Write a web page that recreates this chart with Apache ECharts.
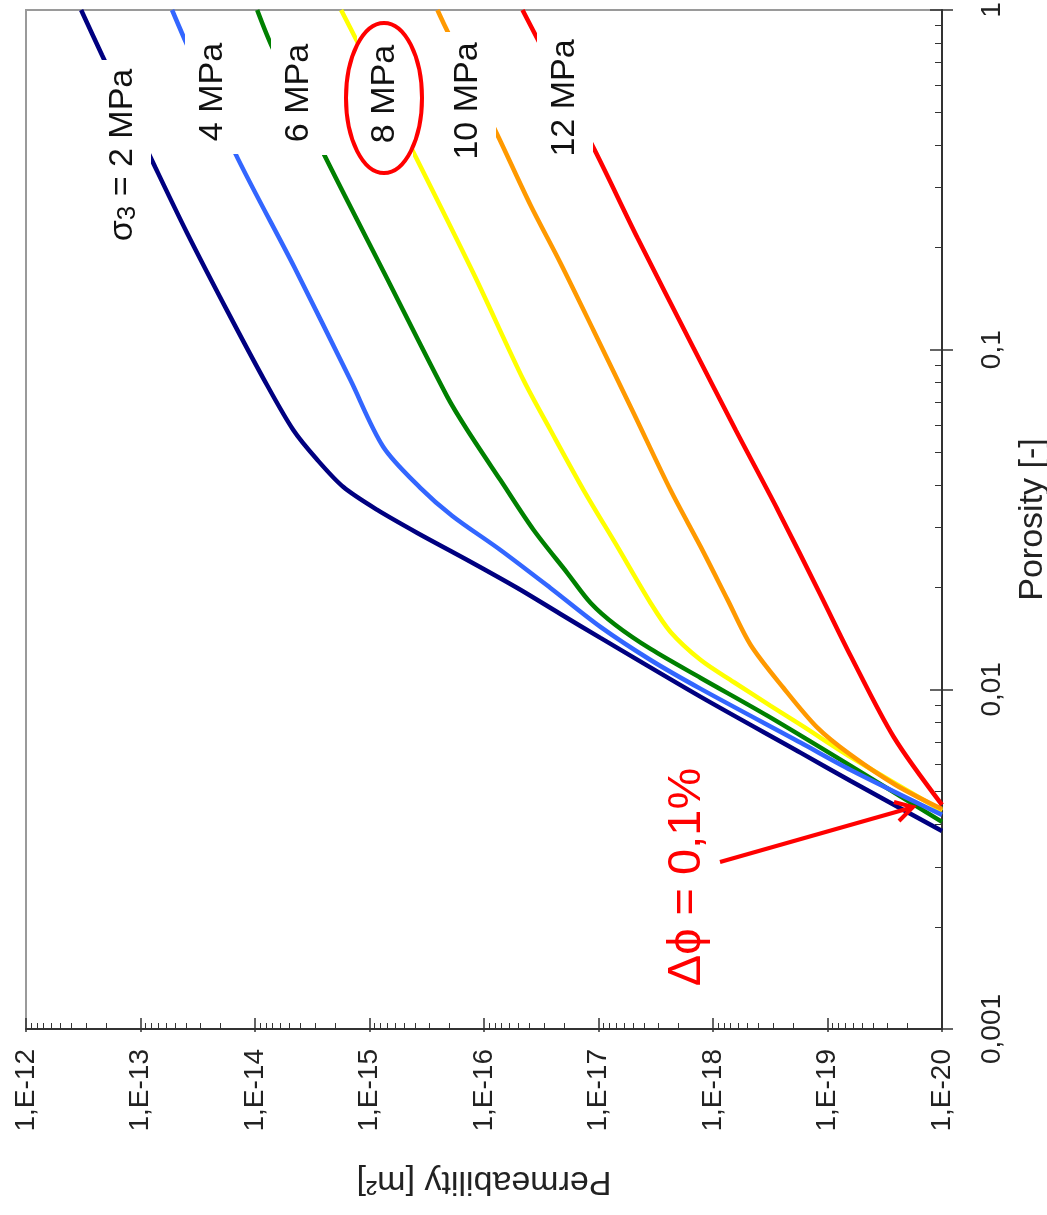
<!DOCTYPE html>
<html>
<head>
<meta charset="utf-8">
<script src="https://cdn.jsdelivr.net/npm/echarts@6/dist/echarts.min.js"></script>
<style>
html,body{margin:0;padding:0;background:#ffffff;}
#chart{width:1047px;height:1215px;}
</style>
</head>
<body>
<div id="chart"></div>
<script>
// ---------- data (permeability [m2] vs porosity [-]) ----------
const seriesNames = ['σ3 = 2 MPa', '4 MPa', '6 MPa', '8 MPa', '10 MPa', '12 MPa'];
const seriesColors = ['#000080', '#3366FF', '#008000', '#FFFF00', '#FF9900', '#FF0000'];

const perm2MPa = [3.30e-13, 2.17e-13, 7.45e-14, 3.92e-14, 1.71e-14, 8.32e-15, 4.63e-15, 2.86e-15, 1.69e-15, 8.55e-16, 3.82e-16, 1.40e-16, 5.11e-17, 2.15e-17, 9.62e-18, 1.28e-18, 1.71e-19, 6.27e-20, 1.0e-20];
const poro2MPa = [1.0, 0.737, 0.345, 0.2206, 0.1283, 0.0815, 0.0580, 0.0474, 0.0394, 0.03375, 0.02887, 0.02404, 0.01988, 0.01667, 0.01417, 0.00950, 0.00650, 0.00537, 0.00383];

const perm4MPa = [5.30e-14, 3.99e-14, 1.49e-14, 4.54e-15, 1.47e-15, 7.57e-16, 3.60e-16, 1.89e-16, 7.19e-17, 2.63e-17, 9.62e-18, 3.51e-18, 1.28e-18, 1.71e-19, 6.27e-20, 1.0e-20];
const poro4MPa = [1.0, 0.800, 0.379, 0.1751, 0.0815, 0.0517, 0.0392, 0.0324, 0.02572, 0.01988, 0.01527, 0.01220, 0.01003, 0.00696, 0.00579, 0.00427];

const perm6MPa = [9.57e-15, 7.21e-15, 2.48e-15, 7.43e-16, 2.09e-16, 1.40e-16, 7.19e-17, 3.70e-17, 1.87e-17, 1.17e-17, 7.10e-18, 3.51e-18, 1.28e-18, 3.33e-19, 6.27e-20, 1.0e-20];
const poro6MPa = [1.0, 0.789, 0.374, 0.1681, 0.0726, 0.0580, 0.0413, 0.0295, 0.0220, 0.01796, 0.01547, 0.01315, 0.01080, 0.00835, 0.00595, 0.00407];

const perm8MPa = [1.77e-15, 1.30e-15, 4.23e-16, 1.24e-16, 4.53e-17, 2.63e-17, 1.35e-17, 6.82e-18, 3.51e-18, 2.35e-18, 1.28e-18, 6.61e-19, 3.14e-19, 1.71e-19, 6.27e-20, 1.0e-20];
const poro8MPa = [1.0, 0.816, 0.387, 0.1681, 0.0815, 0.0580, 0.0386, 0.02626, 0.01796, 0.01476, 0.01220, 0.01051, 0.00894, 0.00786, 0.00632, 0.00439];

const perm10MPa = [2.55e-16, 2.26e-16, 7.48e-17, 3.93e-17, 2.15e-17, 1.11e-17, 4.94e-18, 2.35e-18, 1.28e-18, 7.45e-19, 4.69e-19, 2.42e-19, 1.22e-19, 6.27e-20, 2.54e-20, 1.0e-20];
const poro10MPa = [1.0, 0.916, 0.423, 0.2667, 0.1800, 0.1143, 0.0651, 0.0386, 0.02626, 0.01834, 0.01351, 0.01009, 0.00770, 0.00641, 0.00523, 0.00444];

const perm12MPa = [4.61e-17, 1.08e-17, 4.56e-18, 1.48e-18, 6.34e-19, 2.72e-19, 1.15e-19, 6.27e-20, 2.64e-20, 1.0e-20];
const poro12MPa = [1.0, 0.387, 0.2131, 0.1012, 0.0580, 0.03375, 0.01896, 0.01254, 0.00724, 0.00457];

// tick labels
const permTickValues = [1e-20, 1e-19, 1e-18, 1e-17, 1e-16, 1e-15, 1e-14, 1e-13, 1e-12];
const permTickLabels = ['1,E-20', '1,E-19', '1,E-18', '1,E-17', '1,E-16', '1,E-15', '1,E-14', '1,E-13', '1,E-12'];
const poroTickValues = [0.001, 0.01, 0.1, 1];
const poroTickLabels = ['0,001', '0,01', '0,1', '1'];

const annotationText = 'Δϕ = 0,1%';

// ---------- build ----------
const FONT = '"Liberation Sans", Arial, Helvetica, sans-serif';
function zip(a, b) { return a.map((v, i) => [v, b[i]]); }
function labelFor(values, labels) {
  return function (v) {
    for (let i = 0; i < values.length; i++) {
      if (Math.abs(Math.log10(v) - Math.log10(values[i])) < 1e-6) return labels[i];
    }
    return '';
  };
}
function minorValues(majors) {
  const out = [];
  for (let i = 0; i < majors.length - 1; i++) {
    for (let m = 2; m <= 9; m++) out.push(majors[i] * m);
  }
  return out;
}

const permSets = [perm2MPa, perm4MPa, perm6MPa, perm8MPa, perm10MPa, perm12MPa];
const poroSets = [poro2MPa, poro4MPa, poro6MPa, poro8MPa, poro10MPa, poro12MPa];
const drawOrder = [0, 2, 3, 4, 5, 1];

const series = drawOrder.map(i => ({
  type: 'line',
  name: seriesNames[i],
  data: zip(permSets[i], poroSets[i]),
  xAxisIndex: 0,
  yAxisIndex: 0,
  showSymbol: false,
  symbol: 'none',
  smooth: 0.3,
  silent: true,
  lineStyle: { color: seriesColors[i], width: 4.5 },
  itemStyle: { color: seriesColors[i] }
}));

const gridBox = { left: 26, right: 105, top: 10, bottom: 186 };
const axisColor = '#333333';

const permBase = { type: 'log', logBase: 10, min: 1e-20, max: 1e-12, inverse: true, position: 'bottom', splitLine: { show: false } };
const poroBase = { type: 'log', logBase: 10, min: 0.001, max: 1, position: 'right', splitLine: { show: false } };

const xAxis = [
  Object.assign({}, permBase, {
    gridIndex: 0,
    axisLine: { show: true, onZero: false, lineStyle: { color: axisColor, width: 2 } },
    axisTick: { show: true, inside: true, length: 11, lineStyle: { color: axisColor, width: 1.5 } },
    axisLabel: { rotate: 90, margin: 20, fontSize: 28, color: '#222', fontFamily: FONT, formatter: labelFor(permTickValues, permTickLabels) },
    name: 'Permeability [m²]', nameLocation: 'middle', nameRotate: 180, nameGap: 135,
    nameTextStyle: { fontSize: 34, color: '#222', fontFamily: FONT }
  }),
  Object.assign({}, permBase, {
    gridIndex: 1,
    axisLine: { show: false }, axisLabel: { show: false },
    axisTick: { show: true, inside: true, length: 6, customValues: minorValues(permTickValues), lineStyle: { color: axisColor, width: 1 } }
  }),
  Object.assign({}, permBase, {
    gridIndex: 2,
    axisLine: { show: false }, axisLabel: { show: false },
    axisTick: { show: true, inside: false, length: 3, lineStyle: { color: axisColor, width: 1.5 } }
  })
];

const yAxis = [
  Object.assign({}, poroBase, {
    gridIndex: 0,
    axisLine: { show: true, onZero: false, lineStyle: { color: axisColor, width: 2 } },
    axisTick: { show: true, inside: true, length: 12, lineStyle: { color: axisColor, width: 1.5 } },
    axisLabel: { rotate: 90, margin: 36, fontSize: 28, color: '#222', fontFamily: FONT, formatter: labelFor(poroTickValues, poroTickLabels) },
    name: 'Porosity [-]', nameLocation: 'middle', nameRotate: 90, nameGap: 74,
    nameTextStyle: { fontSize: 34, color: '#222', fontFamily: FONT }
  }),
  Object.assign({}, poroBase, {
    gridIndex: 1,
    axisLine: { show: false }, axisLabel: { show: false },
    axisTick: { show: true, inside: true, length: 7, customValues: minorValues(poroTickValues), lineStyle: { color: axisColor, width: 1 } }
  }),
  Object.assign({}, poroBase, {
    gridIndex: 2,
    axisLine: { show: false }, axisLabel: { show: false },
    axisTick: { show: true, inside: false, length: 11, lineStyle: { color: axisColor, width: 1.5 } }
  })
];

// curve labels (white boxes hide the lines behind the text)
const curveLabels = [
  { text: '{a|σ}{b|3}{a| = 2 MPa}', cx: 123, cy: 155, len: 170 },
  { text: '4 MPa', cx: 213, cy: 92, len: 100 },
  { text: '6 MPa', cx: 299, cy: 93, len: 100 },
  { text: '8 MPa', cx: 385, cy: 94, len: 100 },
  { text: '10 MPa', cx: 468, cy: 101, len: 118 },
  { text: '12 MPa', cx: 565, cy: 98, len: 118 }
];

const graphics = [];
curveLabels.forEach(l => {
  graphics.push({
    type: 'rect', z: 50, silent: true,
    shape: { x: l.cx - 28, y: l.cy - l.len / 2 - 10, width: 56, height: l.len + 22 },
    style: { fill: '#ffffff' }
  });
  graphics.push({
    type: 'text', z: 51, silent: true,
    x: l.cx, y: l.cy, rotation: Math.PI / 2,
    style: {
      text: l.text, fill: '#111', font: '34px ' + FONT,
      align: 'center', verticalAlign: 'middle',
      rich: {
        a: { fontSize: 34, fontFamily: FONT, fill: '#111' },
        b: { fontSize: 26, fontFamily: FONT, fill: '#111', padding: [10, 0, 0, 0] }
      }
    }
  });
});
// red ellipse around 8 MPa
graphics.push({
  type: 'ellipse', z: 60, silent: true,
  shape: { cx: 384, cy: 98, rx: 38, ry: 75 },
  style: { fill: null, stroke: '#FF0000', lineWidth: 4 }
});
// annotation
graphics.push({
  type: 'text', z: 60, silent: true,
  x: 687, y: 877, rotation: Math.PI / 2,
  style: { text: annotationText, fill: '#FF0000', font: '47px ' + FONT, align: 'center', verticalAlign: 'middle' }
});
graphics.push({
  type: 'line', z: 60, silent: true,
  shape: { x1: 720, y1: 862, x2: 910, y2: 808 },
  style: { stroke: '#FF0000', lineWidth: 4 }
});
graphics.push({
  type: 'polyline', z: 60, silent: true,
  shape: { points: [[894, 802], [913, 807], [899, 821]] },
  style: { stroke: '#FF0000', lineWidth: 4, fill: null }
});

const option = {
  animation: false,
  backgroundColor: '#ffffff',
  grid: [
    Object.assign({ show: true, borderColor: '#9a9a9a', borderWidth: 2, backgroundColor: '#ffffff', outerBoundsMode: 'none' }, gridBox),
    Object.assign({ show: false, outerBoundsMode: 'none' }, gridBox),
    Object.assign({ show: false, outerBoundsMode: 'none' }, gridBox)
  ],
  xAxis: xAxis,
  yAxis: yAxis,
  series: series,
  graphic: graphics
};

const chart = echarts.init(document.getElementById('chart'), null, { renderer: 'canvas' });
chart.setOption(option);
</script>
</body>
</html>
